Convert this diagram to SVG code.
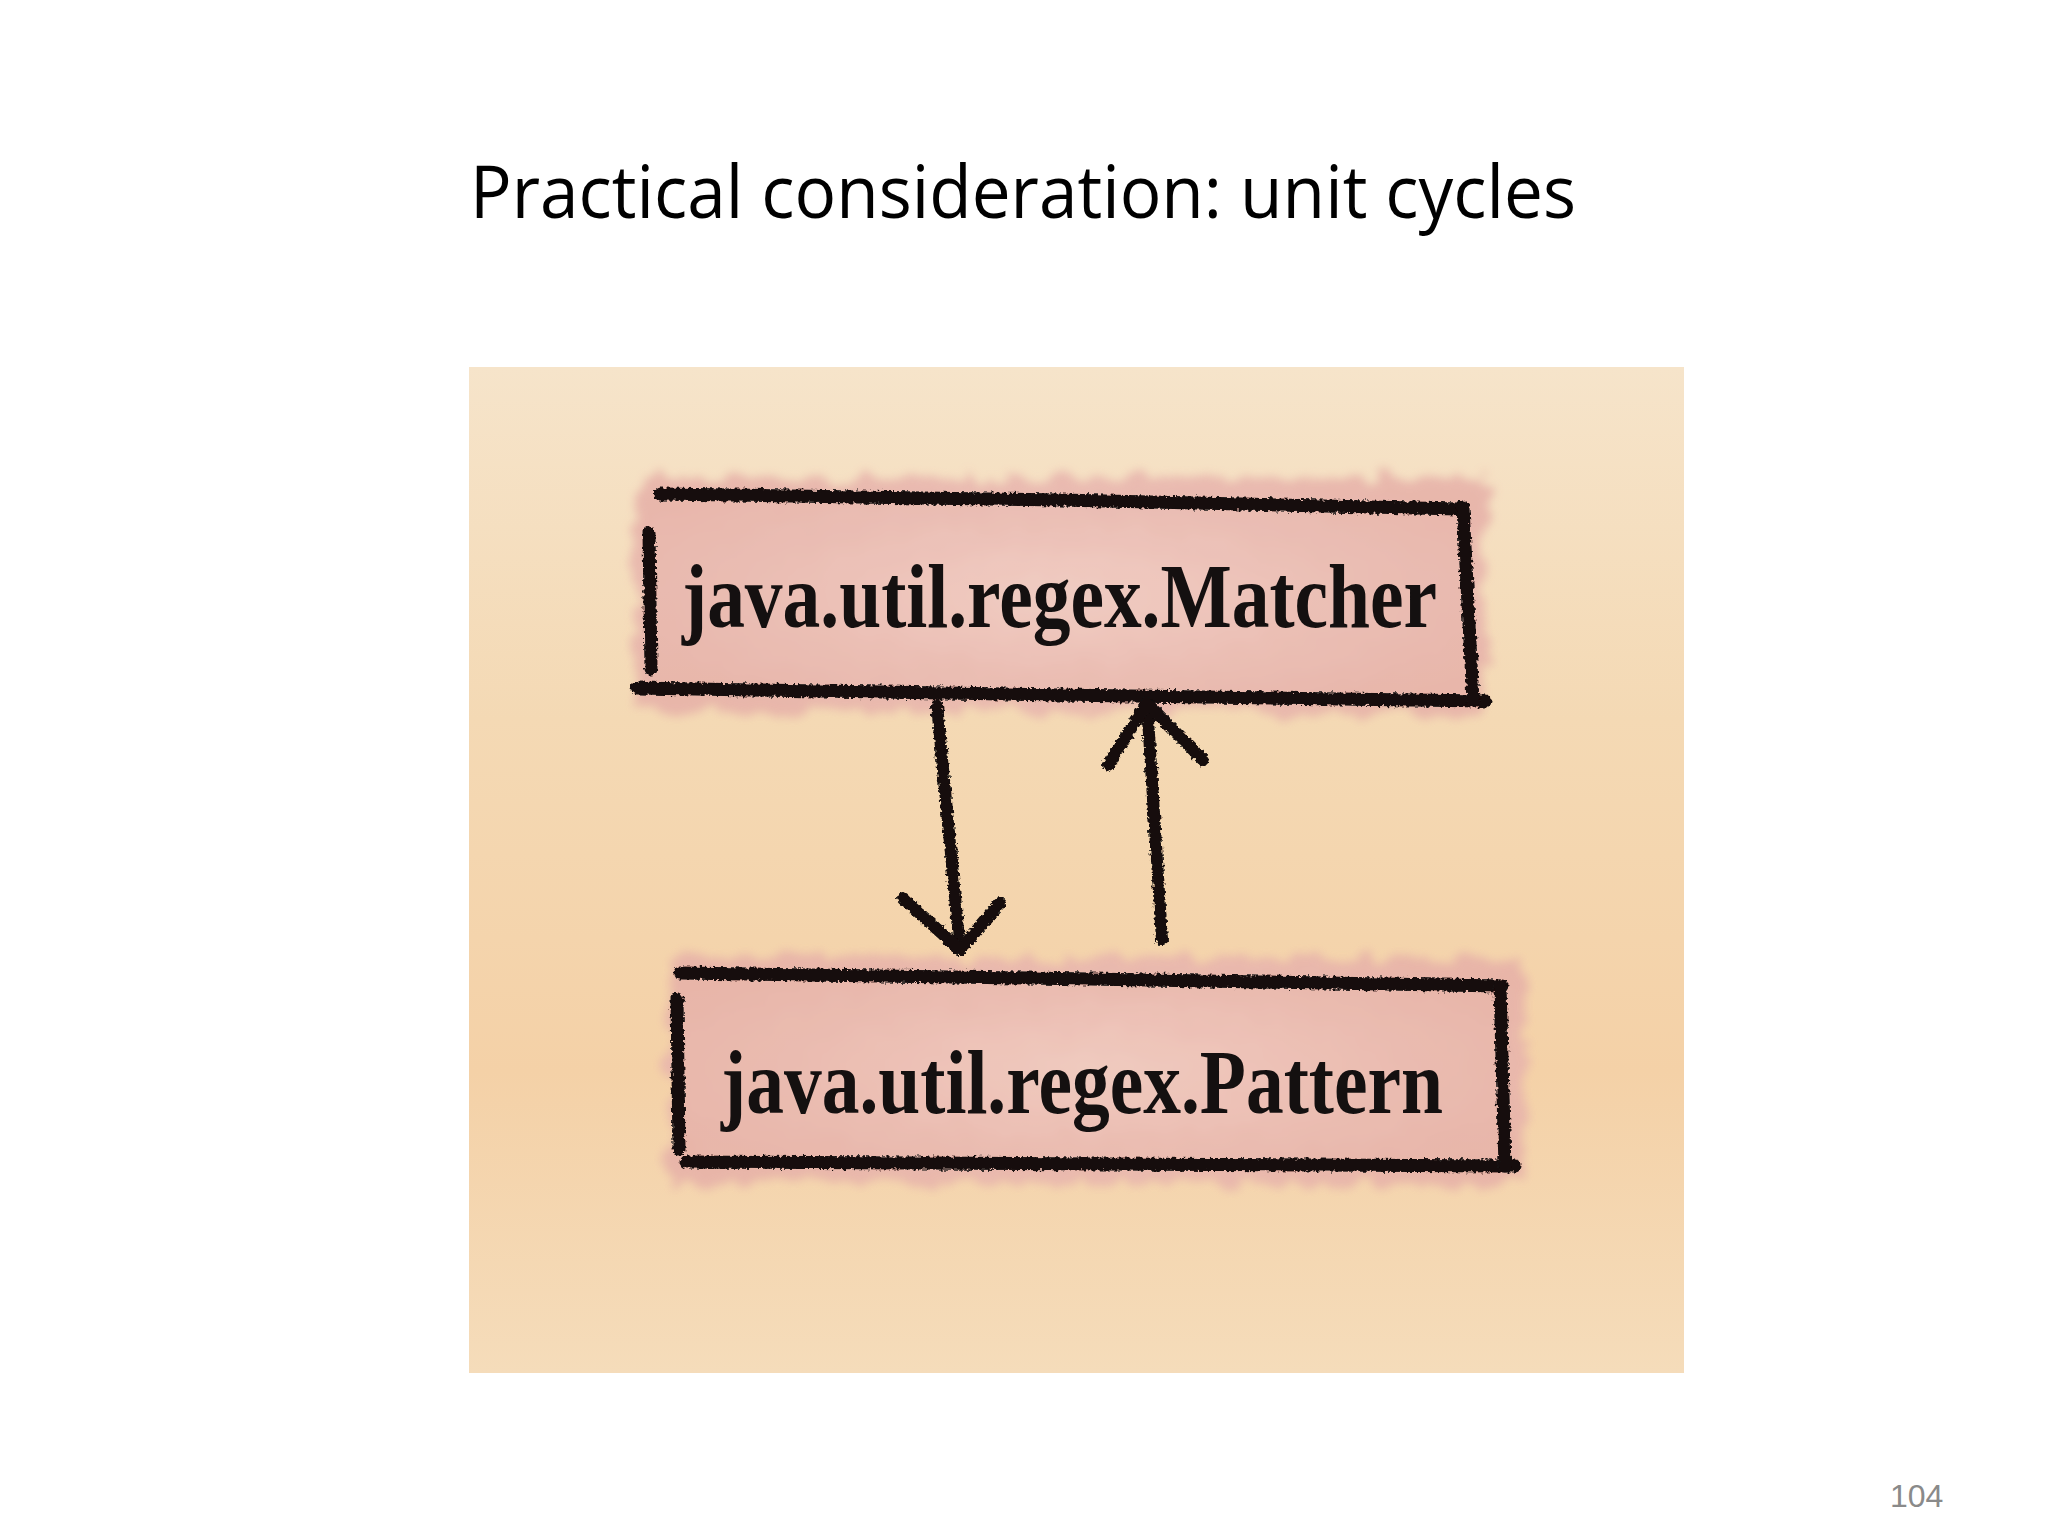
<svg xmlns="http://www.w3.org/2000/svg" width="2048" height="1536" viewBox="0 0 2048 1536">
  <defs>
    <linearGradient id="bg" x1="0" y1="0" x2="0" y2="1">
      <stop offset="0" stop-color="#f6e4ca"/>
      <stop offset="0.35" stop-color="#f4d9b4"/>
      <stop offset="0.7" stop-color="#f4d1a7"/>
      <stop offset="1" stop-color="#f5dcba"/>
    </linearGradient>
    <radialGradient id="pink" cx="0.5" cy="0.5" r="0.6">
      <stop offset="0" stop-color="#f0cac4"/>
      <stop offset="0.6" stop-color="#e9b8b2"/>
      <stop offset="1" stop-color="#e6b0a8"/>
    </radialGradient>
    <filter id="rough" filterUnits="userSpaceOnUse" x="400" y="300" width="1300" height="1000">
      <feTurbulence type="fractalNoise" baseFrequency="0.3" numOctaves="2" seed="3" result="n"/>
      <feDisplacementMap in="SourceGraphic" in2="n" scale="6" xChannelSelector="R" yChannelSelector="G"/>
    </filter>
    <filter id="wash" filterUnits="userSpaceOnUse" x="400" y="300" width="1300" height="1000">
      <feTurbulence type="fractalNoise" baseFrequency="0.04" numOctaves="3" seed="7" result="n"/>
      <feDisplacementMap in="SourceGraphic" in2="n" scale="30" xChannelSelector="R" yChannelSelector="G" result="d"/>
      <feGaussianBlur in="d" stdDeviation="5"/>
    </filter>
    <style>
      .ink { fill: none; stroke: #141010; stroke-width: 13; stroke-linecap: round; stroke-linejoin: round; filter: url(#rough); }
      .arrow { fill: none; stroke: #141010; stroke-width: 12; stroke-linecap: round; stroke-linejoin: round; filter: url(#rough); }
      .label { font-family: "Liberation Serif", "DejaVu Serif", serif; font-size: 92px; font-weight: bold; fill: #141010; }
      .title { font-family: "Open Sans", "Noto Sans", sans-serif; font-size: 74px; fill: #000000; }
      .pg { font-family: "Liberation Sans", Arial, sans-serif; font-size: 32px; fill: #8a8a8a; }
    </style>
  </defs>

  <rect x="0" y="0" width="2048" height="1536" fill="#ffffff"/>
  <text class="title" x="470" y="218" textLength="1106" lengthAdjust="spacingAndGlyphs">Practical consideration: unit cycles</text>

  <g id="panel">
    <rect x="469" y="367" width="1215" height="1006" fill="url(#bg)"/>
  </g>

  <g id="matcher">
    <rect x="635" y="478" width="850" height="235" fill="url(#pink)" filter="url(#wash)" opacity="0.85"/>
    <path class="ink" d="M660,494 L1060,500 L1460,509"/>
    <path class="ink" d="M649,533 L651,669"/>
    <path class="ink" d="M637,688 L1060,695 L1485,701"/>
    <path class="ink" d="M1463,507 L1473,701"/>
    <text class="label" x="682" y="627" textLength="755" lengthAdjust="spacingAndGlyphs">java.util.regex.Matcher</text>
  </g>

  <g id="pattern">
    <rect x="670" y="958" width="855" height="225" fill="url(#pink)" filter="url(#wash)" opacity="0.85"/>
    <path class="ink" d="M680,973 L1090,979 L1502,986"/>
    <path class="ink" d="M677,999 L679,1149"/>
    <path class="ink" d="M686,1162 L1100,1164 L1515,1166"/>
    <path class="ink" d="M1500,986 L1505,1166"/>
    <text class="label" x="721" y="1113" textLength="722" lengthAdjust="spacingAndGlyphs">java.util.regex.Pattern</text>
  </g>

  <g id="connectors">
    <path class="arrow" d="M937,705 L960,950"/>
    <path class="arrow" d="M903,898 L960,950 L1000,903"/>
    <path class="arrow" d="M1162,940 L1147,703"/>
    <path class="arrow" d="M1108,765 L1147,703 L1203,760"/>
  </g>

  <text class="pg" x="1890" y="1507">104</text>
</svg>
